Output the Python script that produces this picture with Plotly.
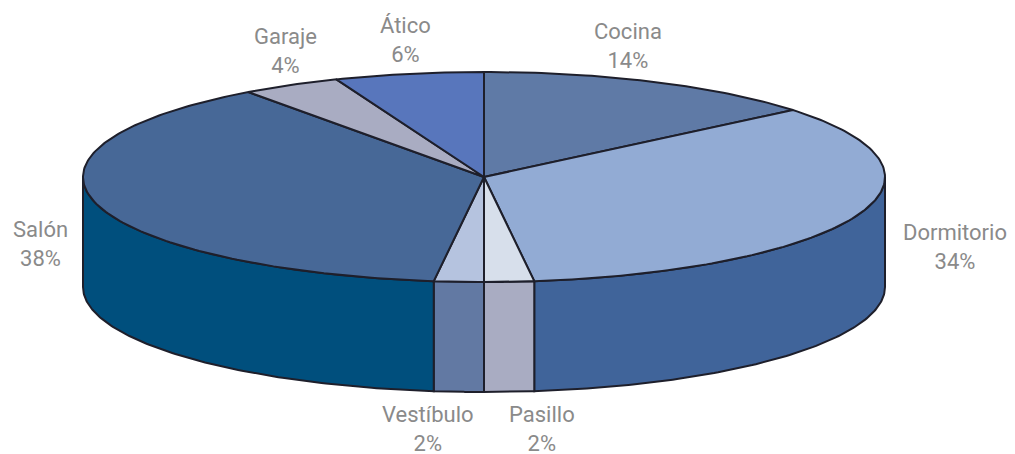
import numpy as np
import plotly.graph_objects as go

# ---- data ----
categories = ["Cocina", "Dormitorio", "Pasillo", "Vestíbulo", "Salón", "Garaje", "Ático"]
percentages = [14, 34, 2, 2, 38, 4, 6]

# ---- style ----
top_colors = ["#5f7aa6", "#92abd4", "#d7dfeb", "#b5c3df", "#476897", "#a9acc2", "#5876bc"]
side_colors = ["#4a6a9c", "#40649a", "#a9acc2", "#6279a3", "#004f7d", "#8c90ab", "#3f5fa5"]
edge = "#1e1f2b"
text_color = "#8a8a8a"

W, H = 1015, 454
OFF = 8  # page body margin compensation
cx, cy = 484, 177
rx, ry = 401, 105
depth = 110

# label anchor positions (pixels)
label_pos = {
    "Cocina": (628, 46),
    "Dormitorio": (955, 247),
    "Pasillo": (542, 429),
    "Vestíbulo": (428, 429),
    "Salón": (40, 244),
    "Garaje": (285, 51),
    "Ático": (405, 40),
}

fig = go.Figure()

total = float(sum(percentages))
bounds = np.concatenate([[0], np.cumsum(percentages)]) / total * 2 * np.pi  # clockwise from top


def ell(t, dy=0.0):
    return cx + rx * np.sin(t), cy - ry * np.cos(t) + dy


# side walls (front half: angles between pi/2 and 3pi/2)
for i, cat in enumerate(categories):
    a0, a1 = bounds[i], bounds[i + 1]
    s0, s1 = max(a0, np.pi / 2), min(a1, 3 * np.pi / 2)
    if s1 <= s0:
        continue
    t = np.linspace(s0, s1, 120)
    xt, yt = ell(t)
    xb, yb = ell(t[::-1], depth)
    xs = np.concatenate([xt, xb, xt[:1]])
    ys = np.concatenate([yt, yb, yt[:1]])
    fig.add_trace(go.Scatter(x=xs, y=ys, mode="lines", fill="toself",
                             fillcolor=side_colors[i],
                             line=dict(color=edge, width=2),
                             hoverinfo="skip", showlegend=False))

# top faces
for i, cat in enumerate(categories):
    a0, a1 = bounds[i], bounds[i + 1]
    n = max(10, int(400 * (a1 - a0) / (2 * np.pi)))
    t = np.linspace(a0, a1, n)
    xt, yt = ell(t)
    xs = np.concatenate([[cx], xt, [cx]])
    ys = np.concatenate([[cy], yt, [cy]])
    fig.add_trace(go.Scatter(x=xs, y=ys, mode="lines", fill="toself",
                             fillcolor=top_colors[i],
                             line=dict(color=edge, width=2),
                             hoverinfo="skip", showlegend=False))

for cat, p in zip(categories, percentages):
    x, y = label_pos[cat]
    fig.add_annotation(x=x, y=y, text=f"{cat}<br>{p}%", showarrow=False,
                       font=dict(family="Roboto", size=22, color=text_color),
                       align="center", xanchor="center", yanchor="middle")

fig.update_layout(
    width=W, height=H,
    margin=dict(l=0, r=0, t=0, b=0),
    paper_bgcolor="white", plot_bgcolor="white",
    xaxis=dict(range=[OFF, W + OFF], visible=False, fixedrange=True),
    yaxis=dict(range=[H + OFF, OFF], visible=False, fixedrange=True),
)

fig.write_html("out.html")
